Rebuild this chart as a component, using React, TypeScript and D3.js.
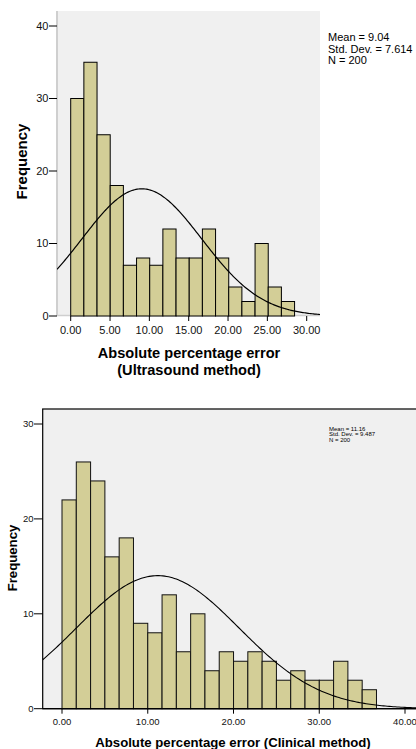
import React from "react";
import * as d3 from "d3";

// ---- Data: top histogram (Ultrasound method) ----
const topCounts = [30, 35, 25, 18, 7, 8, 7, 12, 8, 8, 12, 8, 4, 2, 10, 4, 2];
const topBinWidth = 1.674;
const topMean = 9.04;
const topSd = 7.614;
const topN = 200;
const topXTicks = [0, 5, 10, 15, 20, 25, 30];
const topYTicks = [0, 10, 20, 30, 40];
const topStats = ["Mean = 9.04", "Std. Dev. = 7.614", "N = 200"];
const topXLabel = ["Absolute percentage error", "(Ultrasound method)"];

// ---- Data: bottom histogram (Clinical method) ----
const botCounts = [22, 26, 24, 16, 18, 9, 8, 12, 6, 10, 4, 6, 5, 6, 5, 3, 4, 3, 3, 5, 3, 2];
const botBinWidth = 1.667;
const botMean = 11.16;
const botSd = 9.487;
const botN = 200;
const botXTicks = [0, 10, 20, 30, 40];
const botYTicks = [0, 10, 20, 30];
const botStats = ["Mean = 11.16", "Std. Dev. = 9.487", "N = 200"];
const botXLabel = "Absolute percentage error (Clinical method)";

const FONT = "'Liberation Sans', Arial, Helvetica, sans-serif";
const BAR_FILL = "#d3ce97";

function normalCurve(mean: number, sd: number, n: number, bw: number, x0: number, x1: number) {
  const pts: [number, number][] = [];
  const steps = 200;
  for (let i = 0; i <= steps; i++) {
    const x = x0 + ((x1 - x0) * i) / steps;
    const z = (x - mean) / sd;
    const y = (n * bw) / (sd * Math.sqrt(2 * Math.PI)) * Math.exp(-0.5 * z * z);
    pts.push([x, y]);
  }
  return pts;
}

function TopChart() {
  const x = d3.scaleLinear().domain([0, 30]).range([70.7, 306.7]);
  const y = d3.scaleLinear().domain([0, 40]).range([316, 26]);
  const left = 57, right = 320, top = 11, bottom = y(0);
  const line = d3.line<[number, number]>().x(d => x(d[0])).y(d => y(d[1]));
  const curve = normalCurve(topMean, topSd, topN, topBinWidth, x.invert(left), x.invert(right));
  return (
    <g>
      <defs>
        <clipPath id="clipTop">
          <rect x={left} y={top} width={right - left} height={bottom - top} />
        </clipPath>
      </defs>
      <rect x={left} y={top} width={right - left} height={bottom - top} fill="#f0f0f0" />
      <line x1={left} x2={left} y1={top} y2={bottom} stroke="#cfcfcf" strokeWidth={2} />
      <line x1={left} x2={right} y1={bottom - 0.5} y2={bottom - 0.5} stroke="#cfcfcf" strokeWidth={1.5} />
      {topCounts.map((c, i) => (
        <rect
          key={i}
          x={x(i * topBinWidth)}
          y={y(c)}
          width={x((i + 1) * topBinWidth) - x(i * topBinWidth)}
          height={y(0) - y(c)}
          fill={BAR_FILL}
          stroke="#000"
          strokeWidth={1}
        />
      ))}
      <path d={line(curve) || ""} fill="none" stroke="#000" strokeWidth={1.2} clipPath="url(#clipTop)" />
      {topYTicks.map(t => (
        <g key={t}>
          <line x1={49} x2={left} y1={y(t)} y2={y(t)} stroke="#000" strokeWidth={1} />
          <text x={48.5} y={y(t)} dy="0.35em" textAnchor="end" fontSize={11} fontFamily={FONT} fill="#111">
            {t}
          </text>
        </g>
      ))}
      {topXTicks.map(t => (
        <g key={t}>
          <line x1={x(t)} x2={x(t)} y1={bottom} y2={bottom + 5} stroke="#000" strokeWidth={1} />
          <text x={x(t)} y={333.5} textAnchor="middle" fontSize={11} fontFamily={FONT} fill="#111">
            {t.toFixed(2)}
          </text>
        </g>
      ))}
      <text
        transform={`translate(22,161.5) rotate(-90)`}
        textAnchor="middle"
        dy="0.35em"
        fontSize={15}
        fontWeight="bold"
        fontFamily={FONT}
        fill="#000"
      >
        Frequency
      </text>
      {topXLabel.map((s, i) => (
        <text key={i} x={189} y={357.5 + i * 17} textAnchor="middle" fontSize={14.6} fontWeight="bold" fontFamily={FONT} fill="#000">
          {s}
        </text>
      ))}
      {topStats.map((s, i) => (
        <text key={i} x={328} y={41.3 + i * 11.5} fontSize={11} fontFamily={FONT} fill="#000">
          {s}
        </text>
      ))}
    </g>
  );
}

function BottomChart() {
  const x = d3.scaleLinear().domain([0, 40]).range([62, 405]);
  const y = d3.scaleLinear().domain([0, 30]).range([708.7, 424]);
  const left = 42.7, right = 430, top = 409, bottom = y(0);
  const line = d3.line<[number, number]>().x(d => x(d[0])).y(d => y(d[1]));
  const curve = normalCurve(botMean, botSd, botN, botBinWidth, x.invert(left), x.invert(right));
  return (
    <g>
      <defs>
        <clipPath id="clipBot">
          <rect x={left} y={top} width={right - left} height={bottom - top} />
        </clipPath>
      </defs>
      <rect x={left} y={top} width={right - left} height={bottom - top} fill="#f0f0f0" stroke="#000" strokeWidth={1.2} />
      {botCounts.map((c, i) => (
        <rect
          key={i}
          x={x(i * botBinWidth)}
          y={y(c)}
          width={x((i + 1) * botBinWidth) - x(i * botBinWidth)}
          height={y(0) - y(c)}
          fill={BAR_FILL}
          stroke="#111"
          strokeWidth={1}
        />
      ))}
      <path d={line(curve) || ""} fill="none" stroke="#000" strokeWidth={1.1} clipPath="url(#clipBot)" />
      <line x1={left} x2={right} y1={bottom} y2={bottom} stroke="#000" strokeWidth={1.2} />
      {botYTicks.map(t => (
        <g key={t}>
          <line x1={34} x2={left} y1={y(t)} y2={y(t)} stroke="#000" strokeWidth={1} />
          <text x={33.5} y={y(t)} dy="0.35em" textAnchor="end" fontSize={9.5} fontFamily={FONT} fill="#111">
            {t}
          </text>
        </g>
      ))}
      {botXTicks.map(t => (
        <g key={t}>
          <line x1={x(t)} x2={x(t)} y1={bottom} y2={bottom + 5} stroke="#000" strokeWidth={1} />
          <text x={x(t)} y={725} textAnchor="middle" fontSize={9.5} fontFamily={FONT} fill="#111">
            {t.toFixed(2)}
          </text>
        </g>
      ))}
      <text
        transform={`translate(12,558) rotate(-90)`}
        textAnchor="middle"
        dy="0.35em"
        fontSize={13.2}
        fontWeight="bold"
        fontFamily={FONT}
        fill="#000"
      >
        Frequency
      </text>
      <text x={233} y={746.5} textAnchor="middle" fontSize={13.2} fontWeight="bold" fontFamily={FONT} fill="#000">
        {botXLabel}
      </text>
      {botStats.map((s, i) => (
        <text key={i} x={329} y={430.5 + i * 5.5} fontSize={6} fontFamily={FONT} fill="#000">
          {s}
        </text>
      ))}
    </g>
  );
}

export default function App() {
  return (
    <svg
      width={416}
      height={749}
      style={{ position: "absolute", left: 0, top: 0, background: "#fff" }}
    >
      <rect x={0} y={0} width={416} height={749} fill="#fff" />
      <TopChart />
      <BottomChart />
    </svg>
  );
}
